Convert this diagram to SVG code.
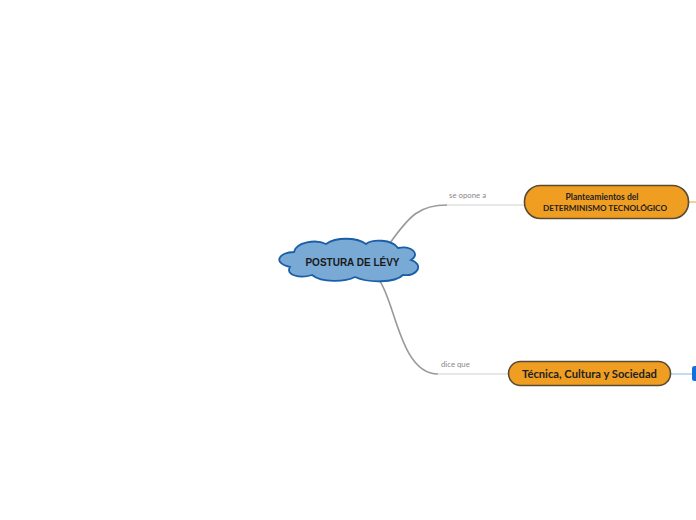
<svg xmlns="http://www.w3.org/2000/svg" width="696" height="520" viewBox="0 0 696 520">
<style>
.conn{fill:none;stroke:#999;stroke-width:1.6}
.base{fill:none;stroke:#d0d0d0;stroke-width:1}
.lbl{font-family:Lato,"Open Sans",sans-serif;font-size:7.8px;fill:#888}
.topic{fill:#F09E22;stroke:#5a4a32;stroke-width:1.6}
.tt{font-family:Lato,"Open Sans",sans-serif;font-weight:bold;fill:#222;text-anchor:middle}
</style>
<rect width="696" height="520" fill="#fff"/>
<g id="connectors">
<path class="conn" d="M390,243 C410,215 420,205 447,205"/>
<line class="base" x1="447" y1="205" x2="524" y2="205"/>
<text class="lbl" x="449" y="198">se opone a</text>
<path class="conn" d="M379,280 C395,300 400,374 438,374"/>
<line class="base" x1="438" y1="374" x2="508" y2="374" stroke="#c8c8dc"/>
<text class="lbl" x="441" y="367">dice que</text>
<line x1="689" y1="202" x2="696" y2="202" stroke="#F0A040" stroke-width="1"/>
<line x1="671" y1="374" x2="693" y2="374" stroke="#9ec4ec" stroke-width="1.2"/>
</g>
<g id="center">
<path d="M294,252 C279,252 272,263 290,267 C285,275 300,279 312,275 C322,283 345,282 355,277 C368,283 395,283 403,275 C418,277 424,264 411,260 C421,254 411,245 398,248 C392,239 372,239 366,244 C356,237 336,237 326,244 C316,239 296,242 294,252 Z" fill="#79A9D5" stroke="#1A5EA8" stroke-width="1.8"/>
<text x="352.5" y="266" font-family="'Liberation Sans',Arial,sans-serif" font-weight="bold" font-size="10" fill="#1a1a1a" text-anchor="middle">POSTURA DE LÉVY</text>
</g>
<g id="n1">
<rect class="topic" x="524.5" y="185.5" width="164" height="33" rx="16"/>
<text class="tt" x="602" y="200" font-size="8.6">Planteamientos del</text>
<text class="tt" x="605" y="210.5" font-size="8.2">DETERMINISMO TECNOLÓGICO</text>
</g>
<g id="n2">
<rect class="topic" x="508.5" y="361.5" width="162" height="24" rx="12"/>
<text class="tt" x="589.5" y="378" font-size="11.2">Técnica, Cultura y Sociedad</text>
</g>
<g id="n3">
<rect x="692" y="366" width="10" height="15" rx="2.5" fill="#1170DD"/>
</g>
</svg>
